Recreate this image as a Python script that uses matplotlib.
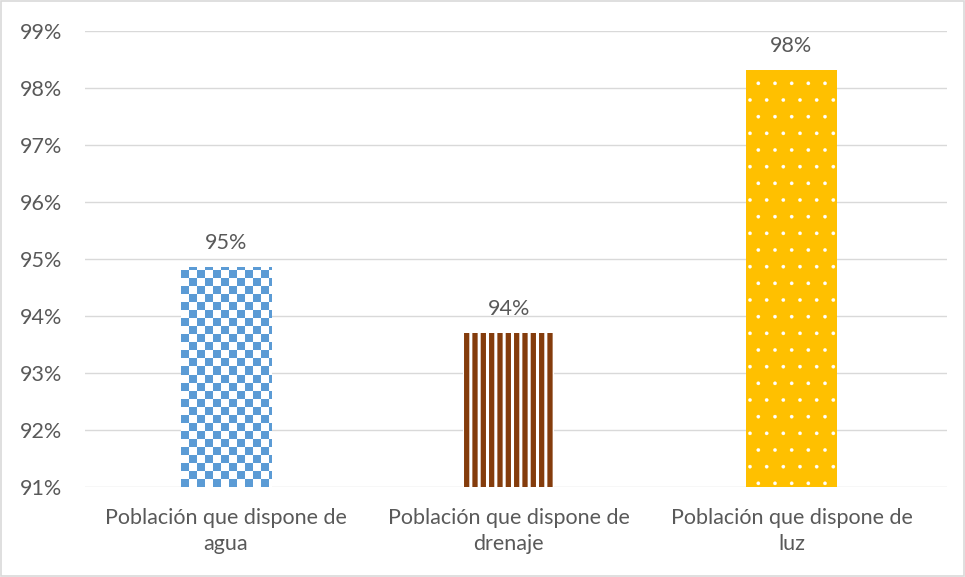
import matplotlib
matplotlib.use("Agg")
import matplotlib.pyplot as plt
import numpy as np
from matplotlib.patches import Rectangle

categories = ["Población que dispone de\nagua", "Población que dispone de\ndrenaje", "Población que dispone de\nluz"]
values = [94.86, 93.70, 98.32]
labels = ["95%", "94%", "98%"]
yticks = [91, 92, 93, 94, 95, 96, 97, 98, 99]

plt.rcParams['font.family'] = ['Lato', 'DejaVu Sans']
txt = '#595959'
grid = '#D9D9D9'
fs = 15.5

W, H = 965, 577
fig = plt.figure(figsize=(W/100, H/100), dpi=100)
fig.patches.append(Rectangle((0.001, 0.001), 0.998, 0.997, transform=fig.transFigure,
                             fill=False, edgecolor='#D9D9D9', lw=1.2))
ax = fig.add_axes([84.5/W, 90/H, (947-84.5)/W, (487-31)/H])
ax.set_xlim(-0.5, 2.55)
ax.set_ylim(91, 99)
ax.set_yticks(yticks)
ax.set_yticklabels([f"{t}%" for t in yticks])
for s in ax.spines.values():
    s.set_visible(False)
ax.yaxis.grid(True, color=grid, lw=1)
ax.set_axisbelow(True)
ax.tick_params(axis='both', length=0, colors=txt, labelsize=fs)
ax.tick_params(axis='y', pad=16)
ax.tick_params(axis='x', pad=15)
ax.set_xticks(range(3))
ax.set_xticklabels(categories, color=txt, linespacing=1.4)

x = np.arange(3)
bw = 0.32
# blue checker
b0 = ax.bar(x[0], values[0] - 91, bottom=91, width=bw, color='#5B9BD5', lw=0)[0]
# brown stripes
with plt.rc_context({'hatch.linewidth': 2.2}):
    b1 = ax.bar(x[1], values[1] - 91, bottom=91, width=bw, color='#843C0C',
                edgecolor='white', hatch='||', lw=0)[0]
# yellow dots
with plt.rc_context({'hatch.linewidth': 0.2}):
    b2 = ax.bar(x[2], values[2] - 91, bottom=91, width=bw, color='#FFC000',
                edgecolor='white', hatch='.', lw=0)[0]

# checker overlay for blue bar
fig.canvas.draw()
px_per_x = ax.transData.transform((1, 0))[0] - ax.transData.transform((0, 0))[0]
px_per_y = ax.transData.transform((0, 1))[1] - ax.transData.transform((0, 0))[1]
cell = 8
x0 = x[0] - bw/2
nx = int(np.ceil(bw * px_per_x / cell))
ny = int(np.ceil((values[0] - 91) * px_per_y / cell))
img = np.ones((ny, nx, 4))
blue = np.array(matplotlib.colors.to_rgba('#5B9BD5'))
for i in range(ny):
    for j in range(nx):
        if (i + j) % 2 == 0:
            img[i, j] = blue
ext = (x0, x0 + nx * cell / px_per_x, 91, 91 + ny * cell / px_per_y)
im = ax.imshow(img, extent=ext, origin='lower', interpolation='nearest', aspect='auto', zorder=3)
im.set_clip_path(b0)
ax.set_xlim(-0.5, 2.55)
ax.set_ylim(91, 99)

for xi, v, l in zip(x, values, labels):
    ax.text(xi, v + 0.25, l, ha='center', va='bottom', color=txt, fontsize=fs)

fig.savefig("out.png", dpi=100)
